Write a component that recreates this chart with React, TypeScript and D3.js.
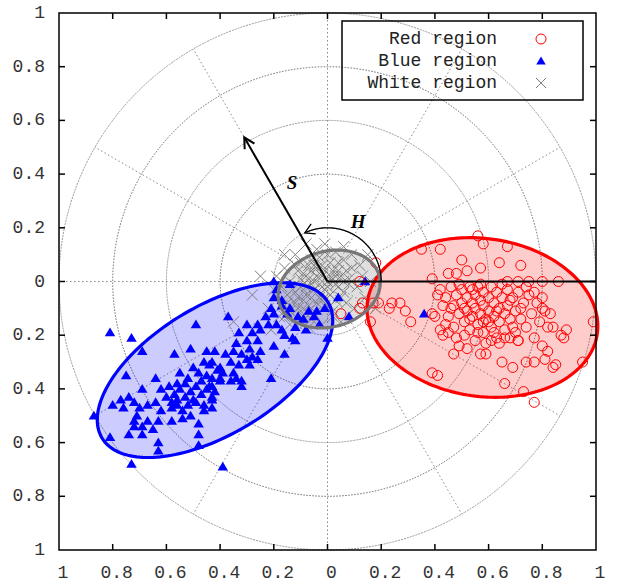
import * as d3 from "d3";
import React from "react";

const W = 617;
const H = 585;

const ticks = [-1, -0.8, -0.6, -0.4, -0.2, 0, 0.2, 0.4, 0.6, 0.8, 1];
const rings = [0.2, 0.4, 0.6, 0.8, 1];
const spokes = [0, 30, 60, 90, 120, 150, 180, 210, 240, 270, 300, 330];
const legendNames = ["Red region", "Blue region", "White region"];

// [cx, cy, semi-major, semi-minor, rotation in degrees]
const redEllipse = [0.577, -0.134, 0.432, 0.294, -8];
const blueEllipse = [-0.419, -0.33, 0.491, 0.239, 31];
const whiteEllipse = [0.006, -0.028, 0.193, 0.141, 15];

// S arrow [length, angle], H arc [radius, start, end]
const sVector = [0.62, 120];
const hArc = [0.2, 0, 115];
const sLabelPos = [-0.132, 0.367];
const hLabelPos = [0.114, 0.222];

const redPts: [number, number][] = [
  [0.35, 0.12], [0.42, 0.12], [0.5, 0.08], [0.56, 0.17], [0.58, 0.14], [0.67, 0.13], [0.64, 0.07],
  [0.72, 0.06], [0.57, 0.05], [0.39, 0.01], [0.45, 0.03], [0.48, 0.03], [0.52, 0.04], [0.67, 0.0],
  [0.71, 0.0], [0.75, 0.0], [0.8, 0.0], [0.86, 0.0], [0.19, -0.08], [0.23, -0.1], [0.24, -0.08],
  [0.27, -0.08], [0.29, -0.11], [0.31, -0.15], [0.39, -0.12], [0.43, -0.2], [0.47, -0.27], [0.49, -0.24],
  [0.39, -0.34], [0.41, -0.35], [0.16, -0.15], [0.05, -0.12], [0.12, 0.0], [0.12, -0.1], [0.13, -0.08],
  [0.18, 0.07], [0.17, -0.08], [0.8, -0.1], [0.83, -0.12], [0.84, -0.17], [0.82, -0.17], [0.89, -0.18],
  [0.87, -0.2], [0.88, -0.21], [0.99, -0.15], [0.77, -0.21], [0.8, -0.24], [0.82, -0.26], [0.85, -0.31],
  [0.95, -0.3], [0.74, -0.3], [0.77, -0.3], [0.65, -0.3], [0.69, -0.32], [0.66, -0.38], [0.73, -0.41],
  [0.77, -0.45], [0.57, -0.27], [0.64, -0.23], [0.68, -0.21], [0.71, -0.22], [0.84, -0.32], [0.81, -0.29],
  [0.42, -0.03], [0.44, -0.06], [0.46, -0.02], [0.47, -0.09], [0.48, -0.05], [0.49, -0.12], [0.5, -0.03],
  [0.5, -0.08], [0.51, -0.15], [0.52, -0.06], [0.52, -0.11], [0.53, -0.02], [0.53, -0.18], [0.54, -0.08],
  [0.54, -0.13], [0.55, -0.05], [0.55, -0.1], [0.56, -0.16], [0.56, -0.02], [0.57, -0.07], [0.57, -0.12],
  [0.58, -0.04], [0.58, -0.09], [0.58, -0.19], [0.59, -0.14], [0.6, -0.06], [0.6, -0.11], [0.61, -0.02],
  [0.61, -0.17], [0.62, -0.08], [0.62, -0.13], [0.63, -0.04], [0.63, -0.21], [0.64, -0.1], [0.64, -0.15],
  [0.65, -0.06], [0.66, -0.12], [0.66, -0.18], [0.67, -0.03], [0.67, -0.09], [0.68, -0.14], [0.69, -0.06],
  [0.7, -0.11], [0.7, -0.19], [0.71, -0.04], [0.72, -0.14], [0.73, -0.08], [0.74, -0.17], [0.75, -0.05],
  [0.76, -0.12], [0.78, -0.08], [0.79, -0.15], [0.45, -0.13], [0.47, -0.17], [0.43, -0.09], [0.41, -0.05],
  [0.44, -0.16], [0.48, -0.21], [0.51, -0.2], [0.55, -0.22], [0.59, -0.23], [0.62, -0.19], [0.46, -0.1],
  [0.49, -0.01], [0.53, -0.14], [0.57, -0.01], [0.6, -0.15], [0.65, -0.01], [0.69, -0.17], [0.72, -0.1],
  [0.74, -0.02], [0.77, -0.04], [0.8, -0.06], [0.81, -0.11], [0.56, -0.19], [0.51, -0.1], [0.54, -0.03],
  [0.58, -0.15], [0.63, -0.11], [0.68, -0.07], [0.61, -0.22], [0.66, -0.21], [0.71, -0.22], [0.45, -0.19],
  [0.4, -0.13], [0.42, -0.18], [0.52, -0.25], [0.59, -0.27],
];

const bluePts: [number, number][] = [
  [-0.81, -0.19], [-0.73, -0.21], [-0.69, -0.26], [-0.49, -0.16], [-0.57, -0.27], [-0.51, -0.25],
  [-0.45, -0.26], [-0.87, -0.5], [-0.81, -0.58], [-0.73, -0.68], [-0.75, -0.35], [-0.64, -0.36],
  [-0.62, -0.4], [-0.59, -0.39], [-0.56, -0.38], [-0.69, -0.4], [-0.77, -0.44], [-0.74, -0.43],
  [-0.8, -0.46], [-0.76, -0.47], [-0.72, -0.45], [-0.7, -0.47], [-0.67, -0.46], [-0.64, -0.45],
  [-0.71, -0.5], [-0.72, -0.52], [-0.67, -0.52], [-0.63, -0.52], [-0.72, -0.54], [-0.69, -0.54],
  [-0.65, -0.55], [-0.74, -0.57], [-0.69, -0.57], [-0.63, -0.6], [-0.63, -0.63], [-0.58, -0.52],
  [-0.54, -0.51], [-0.51, -0.5], [-0.62, -0.48], [-0.58, -0.47], [-0.56, -0.46], [-0.48, -0.53],
  [-0.48, -0.57], [-0.48, -0.61], [-0.53, -0.43], [-0.49, -0.45], [-0.46, -0.46], [-0.43, -0.44],
  [-0.55, -0.34], [-0.52, -0.36], [-0.5, -0.32], [-0.46, -0.3], [-0.48, -0.34], [-0.44, -0.39],
  [-0.45, -0.4], [-0.43, -0.36], [-0.57, -0.42], [-0.55, -0.4], [-0.53, -0.38], [-0.51, -0.41],
  [-0.49, -0.39], [-0.47, -0.42], [-0.52, -0.46], [-0.5, -0.44], [-0.45, -0.35], [-0.47, -0.37],
  [-0.44, -0.31], [-0.54, -0.48], [-0.56, -0.44], [-0.6, -0.43], [-0.58, -0.45], [-0.46, -0.48],
  [-0.42, -0.41], [-0.41, -0.33], [-0.4, -0.37], [-0.2, 0.0], [-0.14, -0.01], [-0.2, -0.06],
  [-0.17, -0.07], [-0.14, -0.1], [-0.21, -0.1], [-0.2, -0.12], [-0.23, -0.13], [-0.37, -0.13],
  [-0.22, -0.16], [-0.19, -0.16], [-0.17, -0.18], [-0.16, -0.2], [-0.12, -0.22], [-0.13, -0.21],
  [-0.2, -0.24], [-0.16, -0.27], [-0.21, -0.36], [-0.15, -0.12], [-0.11, -0.13], [-0.09, -0.14],
  [-0.05, -0.13], [-0.07, -0.11], [0.0, -0.21], [-0.04, -0.11], [-0.01, -0.1], [-0.3, -0.16],
  [-0.26, -0.16], [-0.33, -0.19], [-0.28, -0.19], [-0.25, -0.18], [-0.34, -0.23], [-0.3, -0.22],
  [-0.26, -0.22], [-0.29, -0.25], [-0.25, -0.26], [-0.35, -0.26], [-0.32, -0.27], [-0.38, -0.27],
  [-0.42, -0.26], [-0.3, -0.29], [-0.28, -0.28], [-0.26, -0.29], [-0.36, -0.3], [-0.33, -0.31],
  [-0.29, -0.31], [-0.43, -0.3], [-0.4, -0.32], [-0.39, -0.34], [-0.35, -0.34], [-0.34, -0.36],
  [-0.32, -0.37], [-0.32, -0.39], [-0.4, -0.36], [-0.36, -0.37], [-0.43, -0.39], [-0.43, -0.43],
  [-0.43, -0.47], [-0.39, -0.69], [-0.19, -0.03], [-0.17, -0.09], [-0.12, -0.17], [-0.08, -0.18],
  [-0.03, -0.16], [0.04, -0.06], [0.08, -0.13], [0.14, 0.0], [0.36, -0.12],
];

const whitePts: [number, number][] = [
  [0.0, 0.0], [-0.02, 0.02], [0.03, -0.01], [-0.05, -0.03], [0.02, 0.04], [-0.04, 0.05], [0.05, 0.02],
  [-0.07, 0.01], [0.01, -0.05], [-0.03, -0.06], [0.06, -0.04], [-0.08, -0.05], [0.08, 0.01], [-0.1, -0.02],
  [0.04, 0.07], [-0.06, 0.08], [0.0, 0.1], [-0.11, 0.04], [0.09, 0.05], [-0.01, -0.09], [-0.12, -0.08],
  [0.07, -0.08], [-0.09, -0.1], [0.11, -0.02], [-0.14, 0.0], [0.03, 0.11], [-0.04, 0.12], [0.12, 0.06],
  [-0.15, -0.05], [-0.05, -0.12], [0.02, -0.13], [-0.13, -0.12], [0.1, -0.1], [-0.17, -0.09], [0.13, 0.02],
  [-0.08, 0.14], [0.06, 0.13], [-0.16, 0.05], [-0.18, -0.13], [-0.1, -0.15], [0.05, -0.15], [-0.02, -0.16],
  [0.14, -0.06], [-0.12, 0.1], [0.09, 0.1], [-0.2, -0.03], [-0.19, 0.02], [0.16, 0.0], [-0.07, -0.17],
  [-0.14, -0.16], [0.01, 0.07], [-0.03, 0.03], [-0.06, -0.01], [0.04, -0.02], [-0.01, -0.03], [-0.09, 0.03],
  [0.07, 0.04], [-0.04, -0.08], [0.03, -0.07], [-0.11, -0.06], [-0.02, 0.06], [0.0, -0.02], [-0.05, 0.0],
  [0.02, 0.01], [-0.08, -0.02], [-0.06, 0.04], [0.05, -0.06], [-0.1, 0.07], [-0.13, -0.03], [0.08, -0.01],
  [-0.01, 0.14], [-0.22, -0.1], [-0.25, 0.02], [-0.28, -0.05], [-0.35, -0.15], [0.15, 0.1], [-0.21, -0.18],
  [0.18, -0.1], [-0.16, 0.1], [-0.03, -0.01], [0.01, 0.02], [-0.06, -0.06], [-0.09, -0.07], [-0.12, -0.04],
  [-0.04, -0.04], [-0.07, -0.09], [-0.11, -0.1], [-0.15, -0.08], [-0.02, -0.07], [0.01, -0.09],
  [-0.08, 0.02], [-0.05, 0.06], [-0.1, 0.01], [-0.14, -0.11], [-0.16, -0.13], [-0.06, -0.14],
  [-0.03, 0.09], [0.04, 0.04], [0.06, 0.08], [0.02, -0.11], [-0.12, 0.06], [-0.17, -0.02],
  [-0.01, 0.04], [0.03, 0.02], [-0.09, -0.13], [-0.04, 0.02], [0.06, 0.0], [-0.07, 0.06],
];

const font = "'Liberation Mono', 'DejaVu Sans Mono', monospace";
const serif = "'Liberation Serif', 'DejaVu Serif', serif";

const fmt = (v: number) => {
  const a = Math.abs(v);
  if (a < 1e-9) return "0";
  if (Math.abs(a - 1) < 1e-9) return "1";
  return a.toFixed(1);
};

const triangle = (cx: number, cy: number, s: number) =>
  `M${cx},${cy - s}L${cx - s * 1.05},${cy + s * 0.75}L${cx + s * 1.05},${cy + s * 0.75}Z`;

const cross = (cx: number, cy: number, s: number) =>
  `M${cx - s},${cy - s}L${cx + s},${cy + s}M${cx - s},${cy + s}L${cx + s},${cy - s}`;

const arrowHead = (tx: number, ty: number, dx: number, dy: number, len = 12, spread = 28) => {
  const n = Math.hypot(dx, dy);
  const bx = -dx / n;
  const by = -dy / n;
  const a = (spread * Math.PI) / 180;
  const p1 = [tx + len * (bx * Math.cos(a) - by * Math.sin(a)), ty + len * (bx * Math.sin(a) + by * Math.cos(a))];
  const p2 = [tx + len * (bx * Math.cos(-a) - by * Math.sin(-a)), ty + len * (bx * Math.sin(-a) + by * Math.cos(-a))];
  return `M${p1[0]},${p1[1]}L${tx},${ty}L${p2[0]},${p2[1]}`;
};

export default function App() {
  const x = d3.scaleLinear().domain([-1, 1]).range([59, 596]);
  const y = d3.scaleLinear().domain([-1, 1]).range([550, 13]);
  const k = x(1) - x(0);
  const rad = (d: number) => (d * Math.PI) / 180;

  const closed = d3
    .line<number[]>()
    .x((d) => x(d[0]))
    .y((d) => y(d[1]))
    .curve(d3.curveLinearClosed);
  const open = d3
    .line<number[]>()
    .x((d) => x(d[0]))
    .y((d) => y(d[1]));

  const ellipsePath = (e: number[]) => {
    const [cx, cy, a, b, rot] = e;
    const r = rad(rot);
    const pts = d3.range(0, 360, 2).map((t) => {
      const u = rad(t);
      return [
        cx + a * Math.cos(u) * Math.cos(r) - b * Math.sin(u) * Math.sin(r),
        cy + a * Math.cos(u) * Math.sin(r) + b * Math.sin(u) * Math.cos(r),
      ];
    });
    return closed(pts) || "";
  };

  const regions = [
    { e: redEllipse, color: "#ff0000", op: 0.2 },
    { e: blueEllipse, color: "#0000ff", op: 0.2 },
    { e: whiteEllipse, color: "#808080", op: 0.25 },
  ];

  // S arrow
  const sTip = [sVector[0] * Math.cos(rad(sVector[1])), sVector[0] * Math.sin(rad(sVector[1]))];
  // H arc
  const arcPts = d3.range(hArc[1], hArc[2] + 0.5, 1).map((t) => [hArc[0] * Math.cos(rad(t)), hArc[0] * Math.sin(rad(t))]);
  const arcEnd = arcPts[arcPts.length - 1];
  const endA = rad(hArc[2]);

  const inner = ticks.filter((t) => Math.abs(t) < 0.999);

  return (
    <svg width={W} height={H} style={{ position: "absolute", left: 0, top: 0, background: "#fff" }}>
      {/* polar grid */}
      <g fill="none">
        {rings.map((r, i) => (
          <circle
            key={r}
            cx={x(0)}
            cy={y(0)}
            r={r * k}
            stroke={i % 2 === 0 ? "#999" : "#666"}
            strokeWidth={1}
            strokeDasharray={i % 2 === 0 ? "2,1" : "1.5,1.5"}
          />
        ))}
        {spokes.map((a) => (
          <line
            key={a}
            x1={x(0)}
            y1={y(0)}
            x2={x(Math.cos(rad(a)))}
            y2={y(Math.sin(rad(a)))}
            stroke="#888"
            strokeWidth={1}
            strokeDasharray="1.5,2.5"
          />
        ))}
      </g>

      {/* ellipse fills */}
      {regions.map((r, i) => (
        <path key={i} d={ellipsePath(r.e)} fill={r.color} fillOpacity={r.op} stroke="none" />
      ))}

      {/* points */}
      <g stroke="#808080" strokeWidth={1} fill="none">
        {whitePts.map((p, i) => (
          <path key={i} d={cross(x(p[0]), y(p[1]), 5.5)} />
        ))}
      </g>
      <g fill="#0000ff">
        {bluePts.map((p, i) => (
          <path key={i} d={triangle(x(p[0]), y(p[1]), 5)} />
        ))}
      </g>
      <g stroke="#ff0000" strokeWidth={1} fill="none">
        {redPts.map((p, i) => (
          <circle key={i} cx={x(p[0])} cy={y(p[1])} r={5} />
        ))}
      </g>

      {/* ellipse outlines */}
      {regions.map((r, i) => (
        <path key={i} d={ellipsePath(r.e)} fill="none" stroke={i === 2 ? "#777" : r.color} strokeWidth={3.2} />
      ))}

      {/* S and H */}
      <g stroke="#000" fill="none" strokeWidth={2}>
        <line x1={x(0)} y1={y(0)} x2={x(1)} y2={y(0)} />
        <line x1={x(0)} y1={y(0)} x2={x(sTip[0])} y2={y(sTip[1])} />
        <path d={arrowHead(x(sTip[0]), y(sTip[1]), x(sTip[0]) - x(0), y(sTip[1]) - y(0))} />
        <path d={open(arcPts) || ""} strokeWidth={1.3} />
        <path d={arrowHead(x(arcEnd[0]), y(arcEnd[1]), -Math.sin(endA), -Math.cos(endA), 11, 30)} strokeWidth={1.3} />
      </g>
      <text
        x={x(sLabelPos[0])}
        y={y(sLabelPos[1])}
        fontFamily={serif}
        fontStyle="italic"
        fontWeight="bold"
        fontSize={19}
        textAnchor="middle"
        dominantBaseline="central"
      >
        S
      </text>
      <text
        x={x(hLabelPos[0])}
        y={y(hLabelPos[1])}
        fontFamily={serif}
        fontStyle="italic"
        fontWeight="bold"
        fontSize={19}
        textAnchor="middle"
        dominantBaseline="central"
      >
        H
      </text>

      {/* legend */}
      <g>
        <rect x={342} y={21} width={241} height={79} fill="none" stroke="#000" strokeWidth={1.5} />
        {legendNames.map((n, i) => (
          <text key={n} x={497} y={39 + i * 22} fontFamily={font} fontSize={18} textAnchor="end" dominantBaseline="central" fill="#222">
            {n}
          </text>
        ))}
        <circle cx={541} cy={39} r={5} fill="none" stroke="#ff0000" strokeWidth={1} />
        <path d={triangle(541, 61, 4.5)} fill="#0000ff" />
        <path d={cross(541, 83, 5)} stroke="#808080" strokeWidth={1} />
      </g>

      {/* frame and ticks */}
      <g stroke="#000" strokeWidth={1.5} fill="none">
        <rect x={x(-1)} y={y(1)} width={x(1) - x(-1)} height={y(-1) - y(1)} />
        {inner.map((t) => (
          <g key={t}>
            <line x1={x(t)} y1={y(-1)} x2={x(t)} y2={y(-1) - 6} />
            <line x1={x(t)} y1={y(1)} x2={x(t)} y2={y(1) + 6} />
            <line x1={x(-1)} y1={y(t)} x2={x(-1) + 6} y2={y(t)} />
            <line x1={x(1)} y1={y(t)} x2={x(1) - 6} y2={y(t)} />
          </g>
        ))}
      </g>
      <g fontFamily={font} fontSize={18} fill="#333">
        {ticks.map((t) => (
          <text key={"y" + t} x={45} y={y(t)} textAnchor="end" dominantBaseline="central">
            {fmt(t)}
          </text>
        ))}
        {ticks.map((t) => (
          <text key={"x" + t} x={x(t) + 4} y={578} textAnchor="middle">
            {fmt(t)}
          </text>
        ))}
      </g>
    </svg>
  );
}
